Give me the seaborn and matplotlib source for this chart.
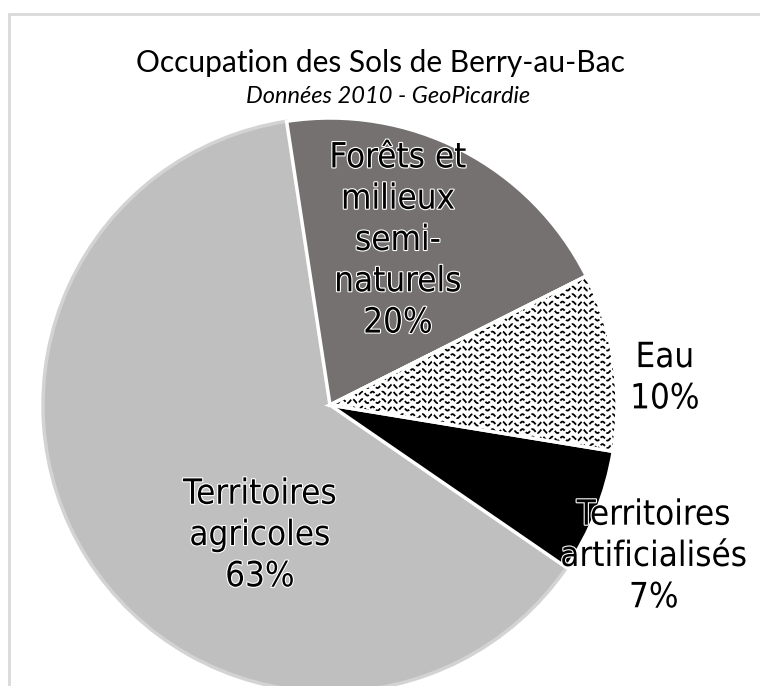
import numpy as np
import matplotlib
matplotlib.use("Agg")
import matplotlib.pyplot as plt
import seaborn as sns
from matplotlib import patheffects as pe
from matplotlib.lines import Line2D
from matplotlib.patches import Wedge

# Land-use shares (%)
categories = ["Forêts et\nmilieux\nsemi-\nnaturels", "Eau",
              "Territoires\nartificialisés", "Territoires\nagricoles"]
shares = [20, 10, 7, 63]
colors = ["#767171", "#ffffff", "#000000", "#bfbfbf"]

title = "Occupation des Sols de Berry-au-Bac"
subtitle = "Données 2010 - GeoPicardie"

sns.set_theme(style="white")
plt.rcParams["font.family"] = ["DejaVu Sans"]

W, H = 760, 686
fig = plt.figure(figsize=(W / 100, H / 100), dpi=100)
fig.patch.set_facecolor("white")

# pie centre and radius in pixels
cx, cy, R = 330, 405, 287
ax = fig.add_axes([(cx - R) / W, (H - cy - R) / H, 2 * R / W, 2 * R / H])

wedges, _ = ax.pie(shares, colors=colors, startangle=98.7, counterclock=False,
                   radius=1, wedgeprops=dict(edgecolor="white", linewidth=2.5))
# agricultural slice keeps a light grey rim, drawn below the others
wedges[3].set_edgecolor("#d3d3d3")
wedges[3].set_zorder(0.5)

# wavy texture for the water slice
eau = wedges[1]
px = 1.0 / R
period, amp, step = 10 * px, 2.0 * px, 7.5 * px
xs = np.linspace(0, 1.05, 900)
for y0 in np.arange(-0.3, 0.65, step):
    ax.plot(xs, y0 + amp * np.sin(2 * np.pi * xs / period), color="black",
            lw=1.3, dashes=(3.0, 1.2), clip_path=eau, zorder=2)
ax.add_patch(Wedge(eau.center, eau.r, eau.theta1, eau.theta2, fill=False,
                   edgecolor="white", linewidth=2.5, zorder=3))

ax.set_xlim(-1, 1)
ax.set_ylim(-1, 1)
ax.axis("off")

# slice labels: (x, y) centres in pie units
label_pos = [(0.237, 0.575), (1.167, 0.095), (1.128, -0.526), (-0.244, -0.453)]
stroke = [pe.withStroke(linewidth=1.6, foreground="white")]
for name, v, (x, y) in zip(categories, shares, label_pos):
    ax.text(x, y, f"{name}\n{v}%", ha="center", va="center", fontsize=25,
            fontstretch="condensed", linespacing=1.27, color="black",
            path_effects=stroke, zorder=5)

fig.text(0.5, 1 - 72 / H, title, ha="center", va="baseline", fontsize=21.5,
         family=["Lato", "DejaVu Sans"], color="black")
fig.text(388 / W, 1 - 103 / H, subtitle, ha="center", va="baseline", fontsize=17,
         style="italic", family=["Lato", "DejaVu Sans"], color="black")

# chart area frame (top and left edges visible)
fx, fy = 9 / W, 1 - 14 / H
fig.add_artist(Line2D([fx, fx], [fy, 0], transform=fig.transFigure,
                      color="#d9d9d9", lw=2))
fig.add_artist(Line2D([fx, 1], [fy, fy], transform=fig.transFigure,
                      color="#d9d9d9", lw=2))

fig.savefig("out.png", dpi=100)
